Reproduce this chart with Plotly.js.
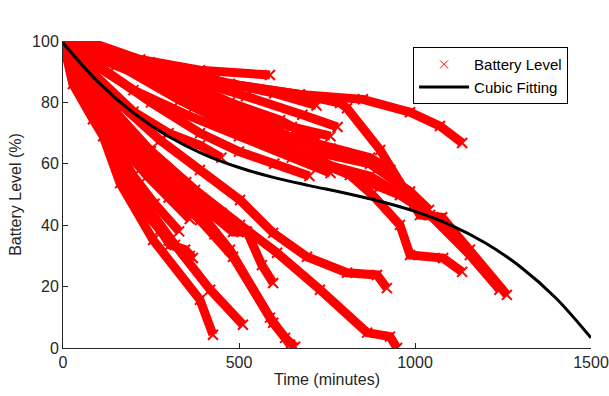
<!DOCTYPE html>
<html><head><meta charset="utf-8">
<script src="https://cdn.plot.ly/plotly-3.0.1.min.js"></script>
<style>html,body{margin:0;padding:0;background:#fff}#chart{width:609px;height:396px}</style>
</head><body><div id="chart"></div>
<script>
// Battery discharge runs (time in minutes, battery level in %), vertices
const runA_t = [0,68,219,389,588];
const runA_l = [100,100,94,90.5,88.9];
const runB_t = [0,77,247,474,673,852,986,1071,1134];
const runB_l = [100,98,93,86,82.6,81,76.8,72.3,66.8];
const runC_t = [0,77,247,474,673,787,807,901,994,1014,1077,1156,1261];
const runC_l = [100,98,93,86,82.6,79.8,78.1,64.5,46.6,43.3,42.6,32,17.3];
const runD_t = [0,105,304,474,617,722];
const runD_l = [100,96,88.9,80,74.2,67.6];
const runE_t = [0,105,304,474,673,815,878,957,986,1080,1134];
const runE_l = [100,95.3,86.8,77.7,64.5,56.3,50,40.1,30.3,29.3,24.8];
const runF_t = [0,134,332,503,673,844,957,1043,1156,1240];
const runF_l = [100,93.7,80.7,71,62.9,54.7,49.8,43.3,30.3,19];
const runG_t = [0,28,85,114,162,256,389,426];
const runG_l = [100,86,74.5,69,53.7,35.2,15.7,4.3];
const runH_t = [0,62,134,205,276,304,347,369];
const runH_l = [100,87.2,67.7,51.5,38.5,33.6,32,29.3];
const runI_t = [0,77,148,205,318,418,511];
const runI_l = [100,84,64.5,51.5,33.6,19,7.6];
const runJ_t = [0,105,190,304,389,483,597,631,659];
const runJ_l = [100,80.7,64.5,51.5,41.7,29.7,8.2,3.3,0.4];
const runK_t = [0,134,247,361,474,588,645];
const runK_l = [100,77.5,61.2,48.2,32,9.9,1.1];
const runL_t = [0,91,190,304,403,483,523,565,597];
const runL_l = [100,84,67.7,54.7,45,37.8,37.8,27,21.2];
const runM_t = [0,134,276,389,503,597,693,807,892,920];
const runM_l = [100,82.3,67.7,58,48.2,37.5,29.7,24.5,23.8,19.5];
const runN_t = [0,119,247,375,503,608,730,864,929,949];
const runN_l = [100,80.7,64.5,51.5,40.1,31,19,5,3.7,0];
const runP_t = [0,150,350,520,680,780];
const runP_l = [100,95,88,82,76,72];
const runQ_t = [0,100,300,474,673,872,986,1040];
const runQ_l = [100,95,86,78,65,60,51,45];
const runR_t = [0,80,200,350,500,650,760];
const runR_l = [100,93,84,76,69,62,57];
const runS_t = [0,60,150,250,350,450,520];
const runS_l = [100,90,76,64,54,44,38];
const runT_t = [0,50,120,200,280,360,430];
const runT_l = [100,90,78,66,55,45,37];
const runU_t = [0,120,320,500,673,872,960];
const runU_l = [100,94,84,74,62,56,50];
const runV_t = [0,90,280,474,640,760,872,930];
const runV_l = [100,96,88,79,69,65,62,58];
const runW_t = [0,100,250,389,500,600,700];
const runW_l = [100,92,80,70,64,60,56];
const runX_t = [0,50,130,200,260,330];
const runX_l = [100,88,70,56,47,38];
const runY_t = [0,90,200,300,389,450];
const runY_l = [100,89,77,70,66,62];
const runZ_t = [0,40,110,180,240,300,360];
const runZ_l = [100,90,77,64,56,49,42];
const runAA_t = [0,200,400,600,720];
const runAA_l = [100,93,88,83,79];
const runAB_t = [0,150,330,500,650,760];
const runAB_l = [100,92,84,78,72,69];
const runAC_t = [0,60,140,220,300,360];
const runAC_l = [100,85,64,46,35,30];

// Cubic fitting curve
const fit_t = [0,100,200,300,400,500,600,700,800,900,1000,1100,1200,1300,1400,1500];
const fit_l = [99.4,86.6,76.6,68.9,63.1,58.8,55.5,52.9,50.5,47.8,44.5,40.1,34.2,26.4,16.3,3.3];

const xTicks = [0,500,1000,1500];
const yTicks = [0,20,40,60,80,100];

const runs = [
  [runA_t,runA_l],[runB_t,runB_l],[runC_t,runC_l],[runD_t,runD_l],[runE_t,runE_l],
  [runF_t,runF_l],[runG_t,runG_l],[runH_t,runH_l],[runI_t,runI_l],[runJ_t,runJ_l],
  [runK_t,runK_l],[runL_t,runL_l],[runM_t,runM_l],[runN_t,runN_l],[runP_t,runP_l],
  [runQ_t,runQ_l],[runR_t,runR_l],[runS_t,runS_l],[runT_t,runT_l],[runU_t,runU_l],
  [runV_t,runV_l],[runW_t,runW_l],[runX_t,runX_l],[runY_t,runY_l],[runZ_t,runZ_l],
  [runAA_t,runAA_l],[runAB_t,runAB_l],[runAC_t,runAC_l]
];

const traces = runs.map(r => ({
  x: r[0], y: r[1], type: 'scatter', mode: 'lines+markers',
  line: {color: '#ff0000', width: 9},
  marker: {symbol: 'x-thin-open', size: 10, color: '#ff0000', line: {color: '#ff0000', width: 2}},
  showlegend: false, hoverinfo: 'skip'
}));

traces.push({
  x: [null], y: [null], type: 'scatter', mode: 'markers', name: 'Battery Level',
  marker: {symbol: 'x-thin-open', size: 8, color: '#ff0000', line: {color: '#ff0000', width: 1}}
});
traces.push({
  x: fit_t, y: fit_l, type: 'scatter', mode: 'lines', name: 'Cubic Fitting',
  line: {color: '#000000', width: 3, shape: 'spline'}
});

const axisFont = {family: 'Liberation Sans, Arial, sans-serif', size: 16, color: '#262626'};

const layout = {
  width: 609, height: 396,
  margin: {l: 63, r: 18, t: 41, b: 48},
  paper_bgcolor: '#ffffff', plot_bgcolor: '#ffffff',
  font: axisFont,
  xaxis: {
    range: [0, 1500], tickvals: xTicks, ticktext: xTicks.map(String),
    ticks: 'inside', ticklen: 5, tickwidth: 1, tickcolor: '#262626',
    showline: true, linecolor: '#262626', linewidth: 1, showgrid: false, zeroline: false,
    tickfont: axisFont, title: {text: 'Time (minutes)', font: axisFont, standoff: 3}
  },
  yaxis: {
    range: [0, 100], tickvals: yTicks, ticktext: yTicks.map(String),
    ticks: 'inside', ticklen: 5, tickwidth: 1, tickcolor: '#262626',
    showline: true, linecolor: '#262626', linewidth: 1, showgrid: false, zeroline: false,
    tickfont: axisFont, title: {text: 'Battery Level (%)', font: axisFont, standoff: 6}
  },
  legend: {
    x: 0.663, y: 0.98, xanchor: 'left', yanchor: 'top',
    bgcolor: '#ffffff', bordercolor: '#000000', borderwidth: 1,
    font: {family: 'Liberation Sans, Arial, sans-serif', size: 15, color: '#000000'},
    tracegroupgap: 0, itemwidth: 50
  },
  showlegend: true
};

Plotly.newPlot('chart', traces, layout, {staticPlot: true, displayModeBar: false});
</script>
</body></html>
